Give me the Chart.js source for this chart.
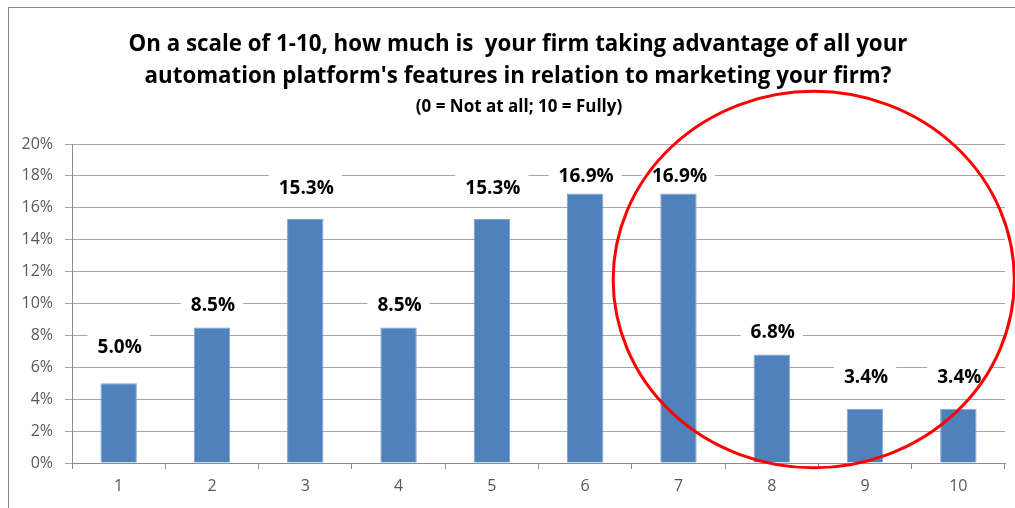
<!DOCTYPE html>
<html>
<head>
<meta charset="utf-8">
<script src="https://cdn.jsdelivr.net/npm/chart.js@4/dist/chart.umd.min.js"></script>
<style>
  html, body { margin: 0; padding: 0; background: #fff; overflow: hidden; }
  #wrap { position: relative; width: 1015px; height: 508px; }
</style>
</head>
<body>
<div id="wrap"><canvas id="chart" width="1015" height="508"></canvas></div>
<script>
// --- data ---
const categories = ["1", "2", "3", "4", "5", "6", "7", "8", "9", "10"];
const shares = [5.0, 8.5, 15.3, 8.5, 15.3, 16.9, 16.9, 6.8, 3.4, 3.4];
const yTicks = [0, 2, 4, 6, 8, 10, 12, 14, 16, 18, 20];
const titleLines = [
  "On a scale of 1-10, how much is  your firm taking advantage of all your",
  "automation platform's features in relation to marketing your firm?"
];
const subtitle = "(0 = Not at all; 10 = Fully)";

// how far each value label sits above its bar (px), as placed in the original
const labelLift = [36, 22, 30, 22, 30, 17, 17, 22, 31, 31];

const FONT = "'Open Sans', sans-serif";

// white background + grey frame, title block
const frame = {
  id: "frame",
  beforeDraw(chart) {
    const c = chart.ctx;
    c.save();
    c.fillStyle = "#fff";
    c.fillRect(0, 0, chart.width, chart.height);
    c.strokeStyle = "#8c8c8c";
    c.lineWidth = 1;
    c.strokeRect(8.5, 7.5, chart.width + 20, chart.height + 20);
    c.fillStyle = "#000";
    c.textAlign = "center";
    c.textBaseline = "middle";
    c.font = "bold 22.3px " + FONT;
    c.fillText(titleLines[0], 518, 45);
    c.fillText(titleLines[1], 518, 77);
    c.font = "bold 17px " + FONT;
    c.fillText(subtitle, 519, 107);
    c.restore();
  }
};

// value labels with white boxes + the red ring
const overlay = {
  id: "overlay",
  afterDatasetsDraw(chart) {
    const c = chart.ctx;
    const meta = chart.getDatasetMeta(0);
    c.save();
    c.font = "bold 19px " + FONT;
    c.textAlign = "center";
    c.textBaseline = "middle";
    meta.data.forEach((bar, i) => {
      const txt = shares[i].toFixed(1) + "%";
      const y = bar.y - labelLift[i];
      const w = c.measureText(txt).width + 18;
      c.fillStyle = "#fff";
      c.fillRect(bar.x - w / 2, y - 14, w, 28);
      c.fillStyle = "#000";
      c.fillText(txt, bar.x + 1, y);
    });

    const xs = chart.scales.x, ys = chart.scales.y;
    const cx = xs.getPixelForValue(7.45);
    const cy = ys.getPixelForValue(11.5);
    const rx = xs.getPixelForValue(2.15) - xs.getPixelForValue(0);
    const ry = ys.getPixelForValue(0) - ys.getPixelForValue(11.8);
    c.beginPath();
    c.ellipse(cx, cy, rx, ry, 0, 0, Math.PI * 2);
    c.strokeStyle = "#ff0000";
    c.lineWidth = 3;
    c.stroke();
    c.restore();
  }
};

new Chart(document.getElementById("chart"), {
  type: "bar",
  data: {
    labels: categories,
    datasets: [{
      data: shares,
      backgroundColor: "#4f81bd",
      borderColor: "#7fa3d0",
      borderWidth: 1,
      barPercentage: 0.78,
      categoryPercentage: 0.5
    }]
  },
  options: {
    responsive: false,
    animation: false,
    layout: { padding: { top: 144, right: 10, left: 0, bottom: 0 } },
    plugins: { legend: { display: false }, tooltip: { enabled: false } },
    scales: {
      x: {
        afterFit(s) { s.height = 45; },
        grid: { drawOnChartArea: false, drawTicks: true, tickLength: 6, color: "#8c8c8c" },
        border: { color: "#8c8c8c" },
        ticks: { color: "#595959", font: { family: FONT, size: 16 }, padding: 8 }
      },
      y: {
        min: 0,
        max: 20,
        afterFit(s) { s.width = 72; },
        afterBuildTicks(s) { s.ticks = yTicks.map(v => ({ value: v })); },
        grid: { color: "#a6a6a6", tickLength: 7 },
        border: { color: "#8c8c8c" },
        ticks: {
          color: "#595959",
          font: { family: FONT, size: 16 },
          padding: 12,
          callback: v => v + "%"
        }
      }
    }
  },
  plugins: [frame, overlay]
});
</script>
</body>
</html>
